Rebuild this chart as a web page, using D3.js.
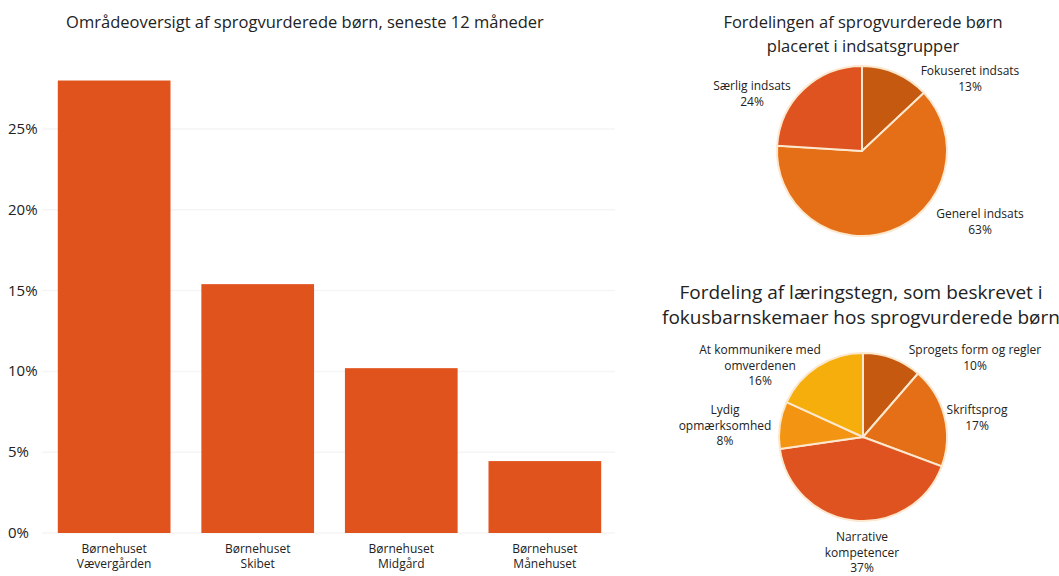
<!DOCTYPE html>
<html>
<head>
<meta charset="utf-8">
<script src="https://cdn.jsdelivr.net/npm/d3@7"></script>
<style>
  body { margin: 0; background: #fff; }
  svg { font-family: "Open Sans", Lato, sans-serif; }
</style>
</head>
<body>
<svg></svg>
<script>
const svgWidth = 1059
const svgHeight = 576

// bar chart data
const barCategories = [["Børnehuset", "Vævergården"], ["Børnehuset", "Skibet"], ["Børnehuset", "Midgård"], ["Børnehuset", "Månehuset"]]
const barValues = [28.0, 15.4, 10.2, 4.45]
const yTicks = [0, 5, 10, 15, 20, 25]

// pie 1 data
const pie1Labels = [["Fokuseret indsats"], ["Generel indsats"], ["Særlig indsats"]]
const pie1Values = [13, 63, 24]

// pie 2 data
const pie2Labels = [["Sprogets form og regler"], ["Skriftsprog"], ["Narrative", "kompetencer"], ["Lydig", "opmærksomhed"], ["At kommunikere med", "omverdenen"]]
const pie2Values = [10, 17, 37, 8, 16]

const barColor = "#E0531C"
const pie1Colors = ["#C4590F", "#E56F16", "#DE5320"]
const pie2Colors = ["#C4590F", "#E56F16", "#DE5320", "#F39512", "#F5AE0C"]

const svg = d3.select("svg")
    .attr("width", svgWidth)
    .attr("height", svgHeight)

// ---------- bar chart ----------
const bar = { left: 42, right: 617, top: 129, bottom: 533 }

svg.append("text")
    .text("Områdeoversigt af sprogvurderede børn, seneste 12 måneder")
    .attr("x", 305)
    .attr("y", 28)
    .attr("text-anchor", "middle")
    .attr("font-size", 16.5)
    .attr("fill", "#222")

const xScale = d3.scaleBand()
    .domain(barCategories.map((d, i) => i))
    .range([bar.left, bar.right])
    .paddingInner(0.215)
    .paddingOuter(0.11)

const yScale = d3.scaleLinear()
    .domain([0, 25])
    .range([bar.bottom, bar.top])

svg.append("g")
    .selectAll("line")
    .data(yTicks)
    .join("line")
    .attr("x1", bar.left)
    .attr("x2", bar.right - 2)
    .attr("y1", (d) => yScale(d))
    .attr("y2", (d) => yScale(d))
    .attr("stroke", "#f5f5f5")
    .attr("stroke-width", 1.5)

svg.append("g")
    .selectAll("text")
    .data(yTicks)
    .join("text")
    .attr("x", 8)
    .attr("y", (d) => yScale(d) + 5)
    .text((d) => d + "%")
    .attr("font-size", 15)
    .attr("fill", "#222")

svg.append("g")
    .selectAll("rect")
    .data(barValues)
    .join("rect")
    .attr("x", (d, i) => xScale(i))
    .attr("y", (d) => yScale(d))
    .attr("width", xScale.bandwidth())
    .attr("height", (d) => yScale(0) - yScale(d))
    .attr("fill", barColor)

barCategories.forEach((lines, i) => {
    const t = svg.append("text")
        .attr("text-anchor", "middle")
        .attr("font-size", 12)
        .attr("fill", "#222")
    lines.forEach((l, j) => {
        t.append("tspan")
            .attr("x", xScale(i) + xScale.bandwidth() / 2)
            .attr("y", 553 + j * 15)
            .text(l)
    })
})

// ---------- pies ----------
function drawTitle(lines, cx, y0, size, gap) {
    lines.forEach((l, j) => {
        svg.append("text")
            .text(l)
            .attr("x", cx)
            .attr("y", y0 + j * gap)
            .attr("text-anchor", "middle")
            .attr("font-size", size)
            .attr("fill", "#222")
    })
}

function drawPie(values, labels, colors, cx, cy, r, labelPos, gap) {
    const pie = d3.pie().sort(null).value((d) => d)
    const arc = d3.arc().innerRadius(0).outerRadius(r)
    const g = svg.append("g").attr("transform", `translate(${cx},${cy})`)
    g.selectAll("path")
        .data(pie(values))
        .join("path")
        .attr("d", arc)
        .attr("fill", (d, i) => colors[i])
        .attr("stroke", "#FCE8CF")
        .attr("stroke-width", 2)

    labels.forEach((lines, i) => {
        const all = lines.concat([values[i] + "%"])
        const t = svg.append("text")
            .attr("text-anchor", "middle")
            .attr("font-size", 12)
            .attr("fill", "#222")
        all.forEach((l, j) => {
            t.append("tspan")
                .attr("x", labelPos[i][0])
                .attr("y", labelPos[i][1] + j * gap)
                .text(l)
        })
    })
}

drawTitle(["Fordelingen af sprogvurderede børn", "placeret i indsatsgrupper"], 863, 28, 16.5, 24)
drawPie(pie1Values, pie1Labels, pie1Colors, 862, 151, 85,
    [[970, 75], [980, 218], [752, 90]], 16)

drawTitle(["Fordeling af læringstegn, som beskrevet i", "fokusbarnskemaer hos sprogvurderede børn"], 861, 299, 19, 25)
drawPie(pie2Values, pie2Labels, pie2Colors, 863, 437, 84,
    [[975, 354], [977, 414], [862, 541], [725, 414], [760, 354]], 15.5)
</script>
</body>
</html>
